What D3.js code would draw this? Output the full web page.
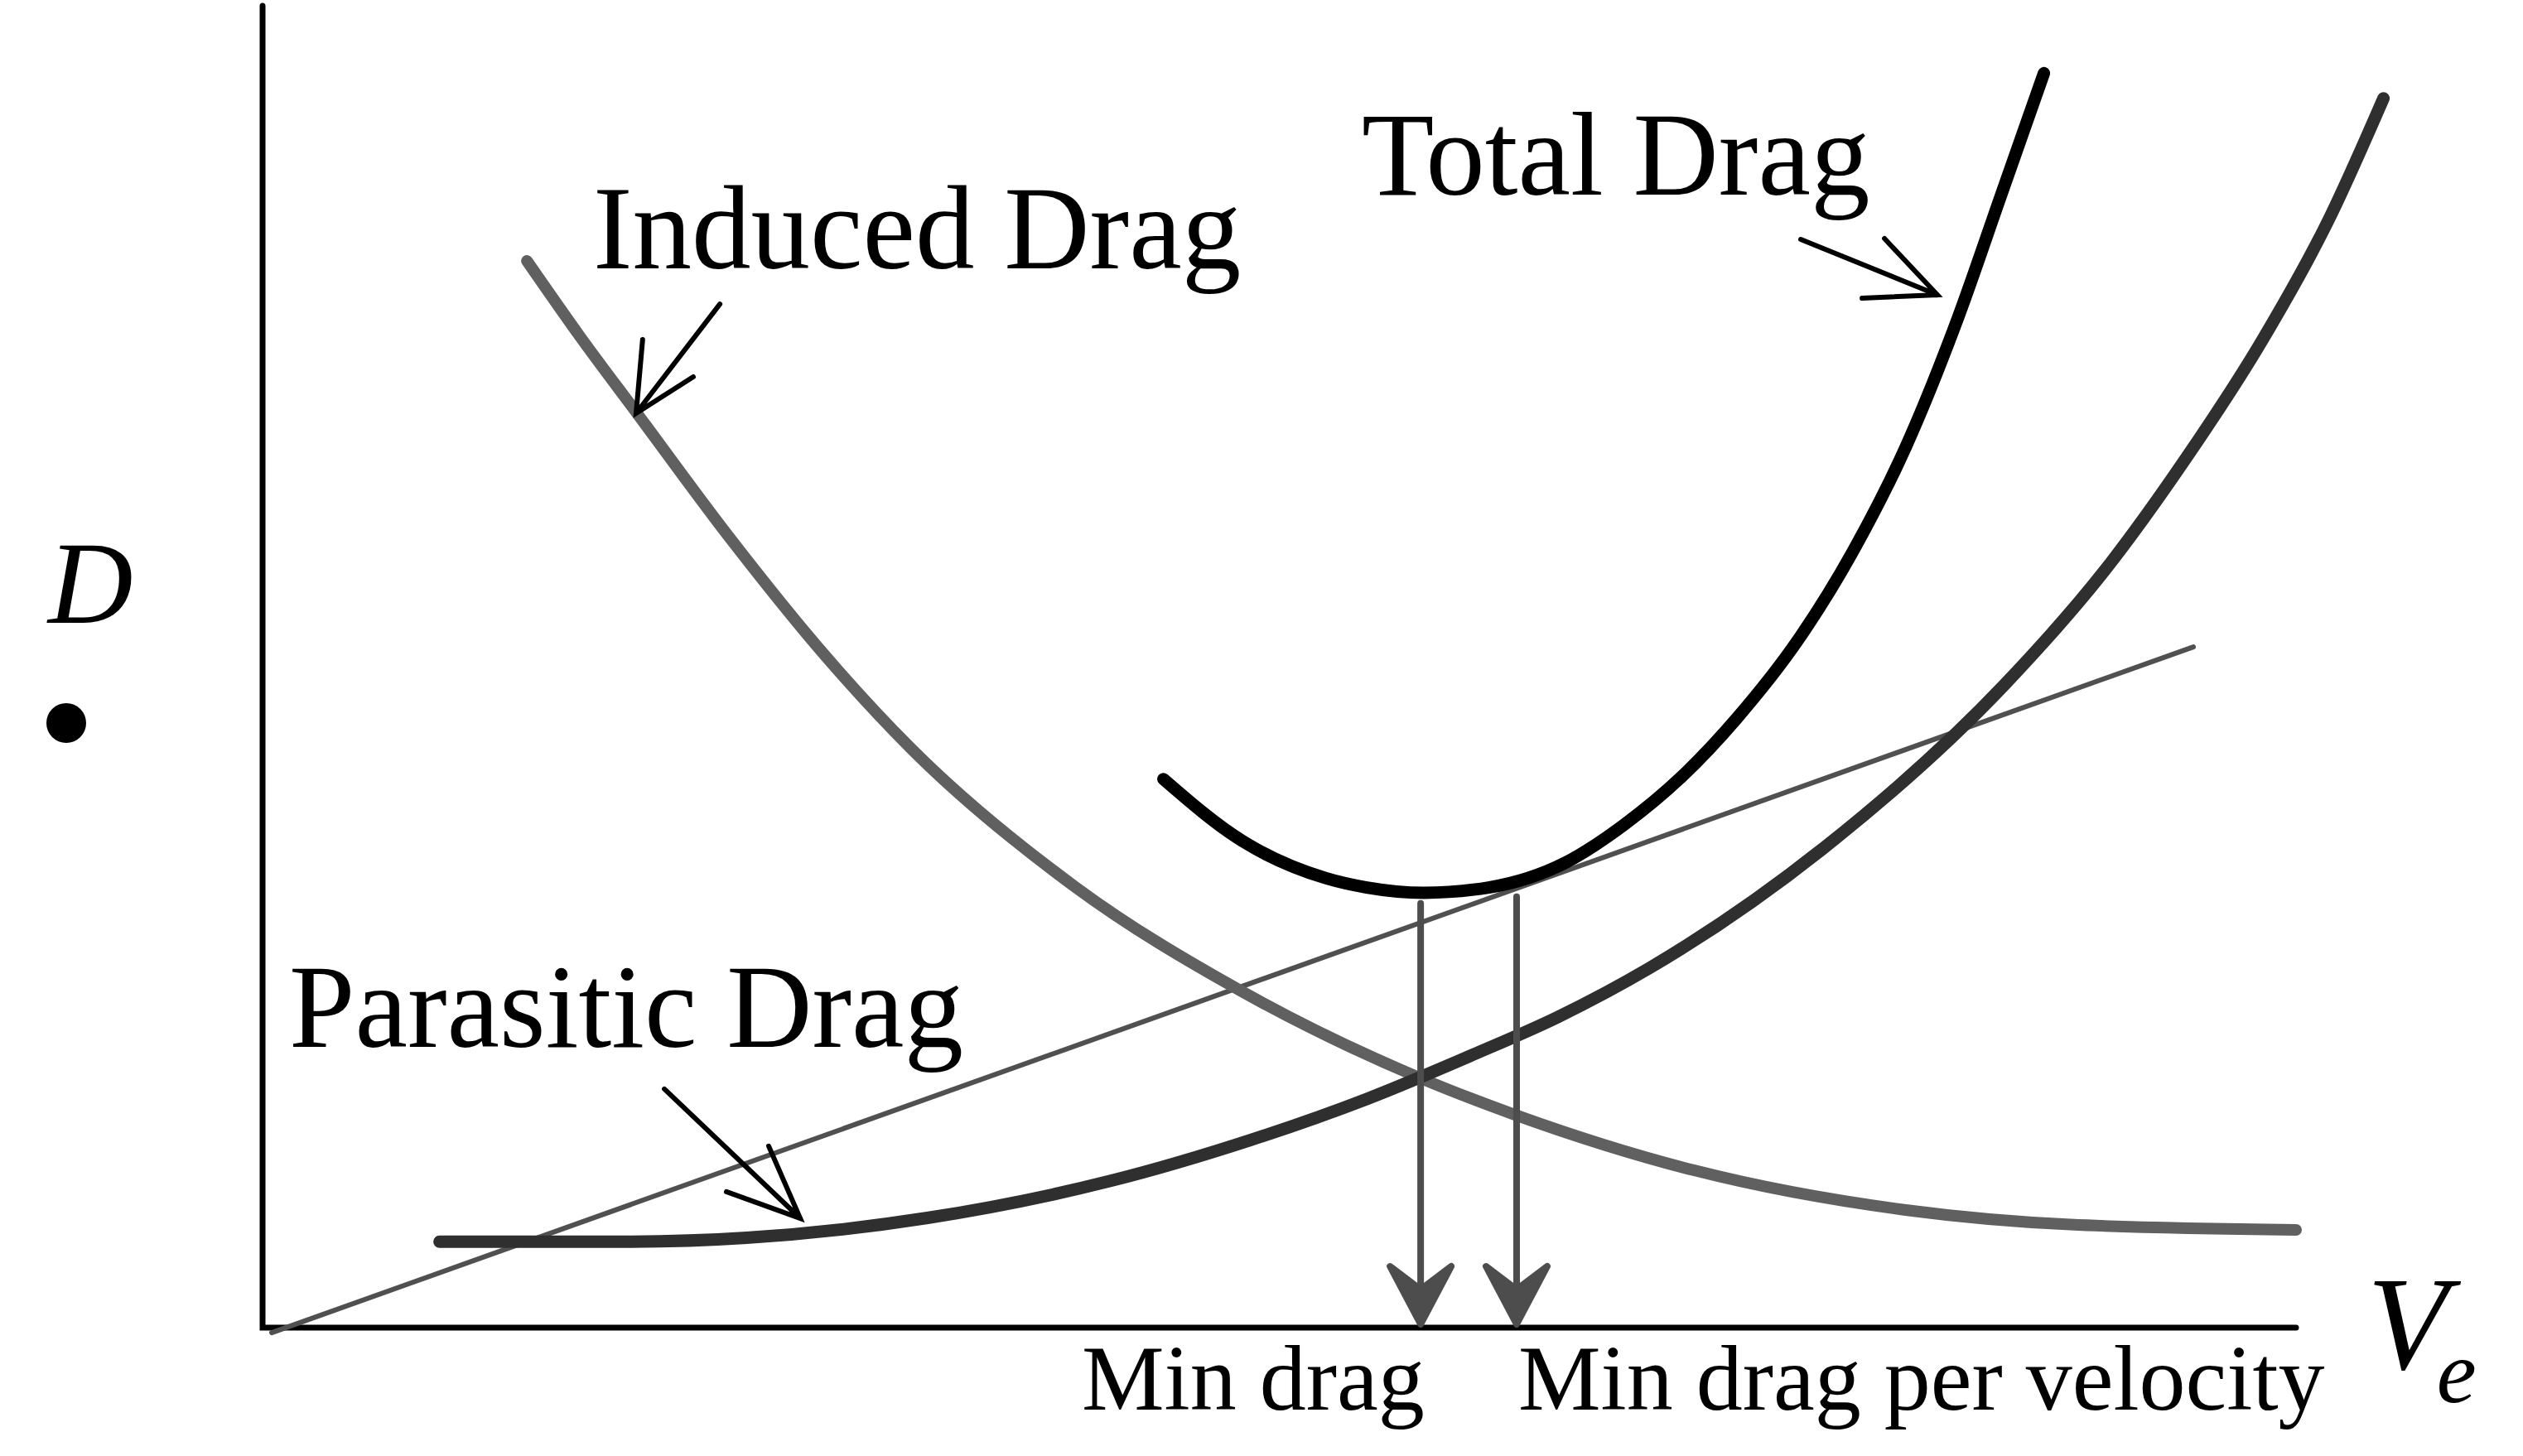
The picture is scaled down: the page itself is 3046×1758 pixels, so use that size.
<!DOCTYPE html>
<html>
<head>
<meta charset="utf-8">
<script src="https://cdn.jsdelivr.net/npm/d3@7/dist/d3.min.js"></script>
<style>
  html, body { margin: 0; padding: 0; background: #fff; }
  svg { display: block; }
  text { font-family: "Liberation Serif", "Times New Roman", serif; fill: #000; }
</style>
</head>
<body>
<svg id="chart" width="3046" height="1758"></svg>
<script>
// ---- Data (velocity V_e, drag D in arbitrary units 0..100) ----
const inducedV = [13.0, 15.6, 18.4, 22.9, 27.8, 31.9, 40.0, 48.2, 56.9, 61.6, 70.4, 80.8, 88.9, 100.0];
const inducedD = [80.7, 75.0, 69.2, 59.9, 50.6, 43.8, 33.3, 25.4, 18.9, 16.1, 11.9, 8.9, 7.8, 7.4];

const parasiticV = [8.7, 17.6, 23.8, 32.7, 41.7, 48.6, 54.3, 59.6, 63.7, 68.2, 76.7, 85.7, 90.6, 94.6, 98.3, 101.6, 104.3];
const parasiticD = [6.5, 6.5, 6.8, 8.3, 11.1, 14.2, 17.3, 20.7, 23.5, 27.2, 36.2, 48.7, 57.3, 65.8, 74.6, 83.8, 93.0];

const totalV = [44.3, 48.2, 52.3, 54.3, 57.1, 60.3, 64.1, 67.0, 69.8, 72.5, 75.5, 78.2, 80.8, 83.4, 85.5, 87.6];
const totalD = [41.5, 36.8, 34.0, 33.3, 32.9, 33.3, 35.2, 38.1, 41.7, 46.1, 52.0, 58.7, 66.6, 76.5, 85.7, 94.9];

const tangentV = [0.45, 94.95];
const tangentD = [-0.38, 51.5];

const markerV = [56.95, 61.67];        // Min drag, Min drag per velocity
const markerTopD = [32.1, 32.6];
const markerLabels = ["Min drag", "Min drag per velocity"];

const curveLabels = ["Induced Drag", "Total Drag", "Parasitic Drag"];
const axisLabelY = "D";
const axisLabelX = "V";
const axisLabelXSub = "e";

// ---- Scales ----
const x = d3.scaleLinear().domain([0, 100]).range([317, 2772]);
const y = d3.scaleLinear().domain([0, 100]).range([1603, 7]);

const svg = d3.select("#chart");
const zip = (a, b) => a.map((v, i) => [v, b[i]]);

const line = d3.line()
  .x(d => x(d[0])).y(d => y(d[1]))
  .curve(d3.curveMonotoneX);

// axes (no ticks)
svg.append("path")
  .attr("d", `M${x(0)},${y(100)} L${x(0)},${y(0)} L${x(100)},${y(0)}`)
  .attr("fill", "none").attr("stroke", "#000").attr("stroke-width", 7)
  .attr("stroke-linecap", "round");

// tangent line
svg.append("path")
  .attr("d", d3.line().x(d => x(d[0])).y(d => y(d[1]))(zip(tangentV, tangentD)))
  .attr("fill", "none").attr("stroke", "#505050").attr("stroke-width", 6)
  .attr("stroke-linecap", "round");

// induced drag
svg.append("path")
  .attr("d", line(zip(inducedV, inducedD)))
  .attr("fill", "none").attr("stroke", "#606060").attr("stroke-width", 14)
  .attr("stroke-linecap", "round");

// parasitic drag
svg.append("path")
  .attr("d", line(zip(parasiticV, parasiticD)))
  .attr("fill", "none").attr("stroke", "#2f2f2f").attr("stroke-width", 15)
  .attr("stroke-linecap", "round");

// total drag
svg.append("path")
  .attr("d", line(zip(totalV, totalD)))
  .attr("fill", "none").attr("stroke", "#000").attr("stroke-width", 15)
  .attr("stroke-linecap", "round");

// vertical markers with dart arrowheads
markerV.forEach((v, i) => {
  const cx = x(v);
  const tipY = y(0) - 4;
  svg.append("line")
    .attr("x1", cx).attr("x2", cx)
    .attr("y1", y(markerTopD[i])).attr("y2", tipY - 40)
    .attr("stroke", "#4d4d4d").attr("stroke-width", 8).attr("stroke-linecap", "round");
  svg.append("path")
    .attr("d", `M${cx},${tipY} L${cx - 37},${tipY - 70} L${cx},${tipY - 42} L${cx + 37},${tipY - 70} Z`)
    .attr("fill", "#4d4d4d").attr("stroke", "#4d4d4d").attr("stroke-width", 8)
    .attr("stroke-linejoin", "round");
});

// annotation arrows: shaft start, tip, arm1, arm2 (data units)
const annArrows = [
  [[22.49, 77.44], [18.37, 69.17], [18.69, 74.75], [21.18, 71.93]],
  [[75.64, 82.33], [82.36, 78.13], [79.76, 82.39], [78.66, 77.88]],
  [[19.76, 18.05], [26.44, 8.27], [24.89, 13.73], [22.81, 10.28]]
];
annArrows.forEach(a => {
  const P = a.map(p => [x(p[0]), y(p[1])]);
  svg.append("path")
    .attr("d", `M${P[0][0]},${P[0][1]} L${P[1][0]},${P[1][1]} M${P[2][0]},${P[2][1]} L${P[1][0]},${P[1][1]} L${P[3][0]},${P[3][1]}`)
    .attr("fill", "none").attr("stroke", "#000").attr("stroke-width", 6)
    .attr("stroke-linecap", "round").attr("stroke-linejoin", "miter");
});

// curve labels
const labelPos = [[716, 324], [1644, 235], [349, 1264]];
curveLabels.forEach((t, i) => {
  svg.append("text").attr("x", labelPos[i][0]).attr("y", labelPos[i][1])
    .attr("font-size", 143).text(t);
});

// marker labels
const markerLabelX = [1306, 1833];
markerLabels.forEach((t, i) => {
  svg.append("text").attr("x", markerLabelX[i]).attr("y", 1702)
    .attr("font-size", 112).text(t);
});

// axis labels
svg.append("text").attr("x", 58).attr("y", 752).attr("font-size", 142)
  .attr("font-style", "italic").text(axisLabelY);
svg.append("circle").attr("cx", 80).attr("cy", 873).attr("r", 24).attr("fill", "#000");
const vt = svg.append("text").attr("x", 2858).attr("y", 1653).attr("font-size", 160)
  .attr("font-style", "italic");
vt.append("tspan").text(axisLabelX);
vt.append("tspan").attr("dx", -14).attr("dy", 40).attr("font-size", 108).text(axisLabelXSub);
</script>
</body>
</html>
